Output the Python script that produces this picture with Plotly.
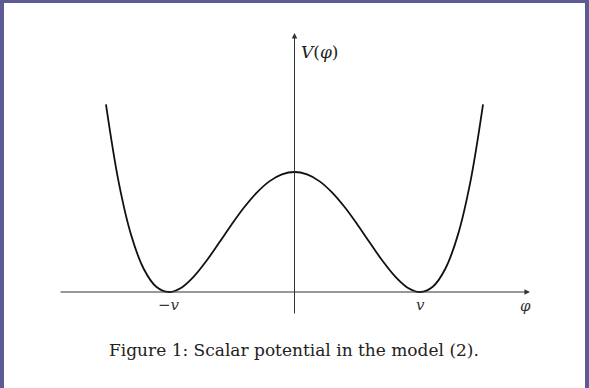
import plotly.graph_objects as go

# Double-well scalar potential V(phi), sampled at phi in units of v
phi = [-1.5, -1.4, -1.3, -1.2, -1.1, -1.0, -0.9, -0.8, -0.7, -0.6, -0.5, -0.4,
       -0.3, -0.2, -0.1, 0.0, 0.1, 0.2, 0.3, 0.4, 0.5, 0.6, 0.7, 0.8, 0.9,
       1.0, 1.1, 1.2, 1.3, 1.4, 1.5]
V = [1.563, 0.922, 0.476, 0.194, 0.044, 0.0, 0.036, 0.130, 0.260, 0.410,
     0.563, 0.706, 0.828, 0.922, 0.980, 1.0, 0.980, 0.922, 0.828, 0.706,
     0.563, 0.410, 0.260, 0.130, 0.036, 0.0, 0.044, 0.194, 0.476, 0.922, 1.563]

# Axis marks and their labels
tick_pos = [-1.0, 1.0]
tick_text = ["\u2212<i>v</i>", "<i>v</i>"]
x_label = "<i>\u03c6</i>"
y_label = "<i>V</i>(<i>\u03c6</i>)"
caption = "Figure 1: Scalar potential in the model (2)."

X_RANGE = [-2.343, 2.343]
Y_RANGE = [-0.8, 2.4333]
AXIS_COLOR = "#333333"
SERIF = "DejaVu Serif, Liberation Serif, serif"


def px_to_y(row):
    """Convert a pixel row to y data units (baseline at row 292, 120 px per unit)."""
    return (292 - row) / 120.0


fig = go.Figure()
fig.add_trace(go.Scatter(
    x=phi, y=V, mode="lines",
    line=dict(color="#111111", width=1.8, shape="spline", smoothing=1.0),
    hoverinfo="skip", showlegend=False,
))

annotations = [
    # horizontal axis with arrow
    dict(x=1.873, y=0, ax=-1.873, ay=0, xref="x", yref="y", axref="x", ayref="y",
         text="", showarrow=True, arrowhead=2, arrowsize=1.1, arrowwidth=1,
         arrowcolor=AXIS_COLOR, standoff=0, startstandoff=0),
    # vertical axis with arrow
    dict(x=0, y=px_to_y(33), ax=0, ay=px_to_y(315), xref="x", yref="y",
         axref="x", ayref="y",
         text="", showarrow=True, arrowhead=2, arrowsize=1.1, arrowwidth=1,
         arrowcolor=AXIS_COLOR, standoff=0, startstandoff=0),
    dict(x=1.84, y=px_to_y(306), xref="x", yref="y", text=x_label, showarrow=False,
         font=dict(family=SERIF, size=15, color="#333333")),
    dict(x=0.035, y=px_to_y(52), xref="x", yref="y", text=y_label, showarrow=False,
         xanchor="left", font=dict(family=SERIF, size=17, color="#222222")),
    dict(x=294 / 589, y=px_to_y(350), xref="paper", yref="y", text=caption,
         showarrow=False, font=dict(family=SERIF, size=17, color="#222222")),
]
for pos, txt in zip(tick_pos, tick_text):
    annotations.append(dict(x=pos, y=px_to_y(305), xref="x", yref="y", text=txt,
                            showarrow=False,
                            font=dict(family=SERIF, size=15, color="#333333")))

# thin slate-blue frame on left, top and right edges
frame = "rgb(93,91,150)"
shapes = [
    dict(type="rect", xref="paper", yref="paper", x0=0, x1=4 / 589, y0=0, y1=1,
         fillcolor=frame, line=dict(width=0), layer="above"),
    dict(type="rect", xref="paper", yref="paper", x0=0, x1=1, y0=1 - 3 / 388, y1=1,
         fillcolor=frame, line=dict(width=0), layer="above"),
    dict(type="rect", xref="paper", yref="paper", x0=1 - 4 / 589, x1=1, y0=0, y1=1,
         fillcolor=frame, line=dict(width=0), layer="above"),
]

fig.update_layout(
    width=589, height=388,
    margin=dict(l=0, r=0, t=0, b=0),
    paper_bgcolor="white", plot_bgcolor="white",
    xaxis=dict(range=X_RANGE, visible=False, fixedrange=True),
    yaxis=dict(range=Y_RANGE, visible=False, fixedrange=True),
    annotations=annotations,
    shapes=shapes,
)

fig.write_html("out.html")
